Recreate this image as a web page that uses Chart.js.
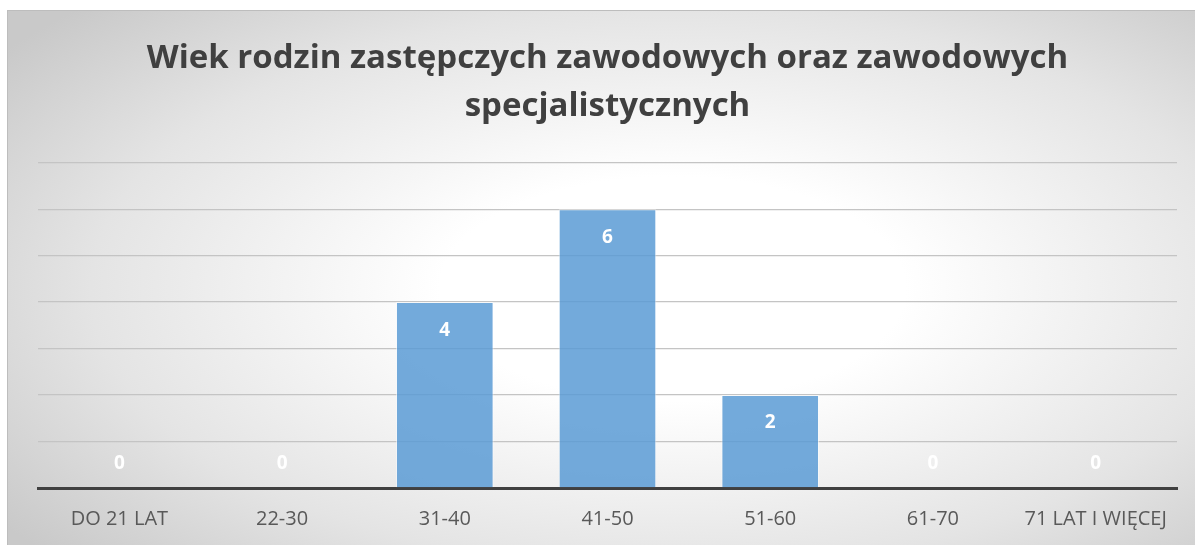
<!DOCTYPE html>
<html>
<head>
<meta charset="utf-8">
<script src="https://cdn.jsdelivr.net/npm/chart.js@4.4.0/dist/chart.umd.min.js"></script>
<style>
  html, body { margin: 0; padding: 0; background: #ffffff; }
  #karta {
    position: absolute;
    left: 7px; top: 10px;
    width: 1188px; height: 535px;
    border-top: 1px solid #bdbdbd;
    border-left: 1px solid #bdbdbd;
    box-sizing: border-box;
    background: radial-gradient(ellipse 70% 75% at 56% 52%, #ffffff 0%, #ffffff 28%, #e4e4e4 70%, #c9c9c9 100%);
  }
</style>
</head>
<body>
<div id="karta"><canvas id="wykres"></canvas></div>
<script>
const kategorie = ['DO 21 LAT', '22-30', '31-40', '41-50', '51-60', '61-70', '71 LAT I WIĘCEJ'];
const wartosci = [0, 0, 4, 6, 2, 0, 0];
const tytul = ['Wiek rodzin zastępczych zawodowych oraz zawodowych', 'specjalistycznych'];
const osY = { min: 0, max: 7, krok: 1 };

const etykietyWartosci = {
  id: 'etykietyWartosci',
  afterDatasetsDraw(chart) {
    const ctx = chart.ctx;
    const meta = chart.getDatasetMeta(0);
    const podstawa = chart.scales.y.getPixelForValue(0);
    ctx.save();
    ctx.font = 'bold 19px "Open Sans"';
    ctx.fillStyle = '#ffffff';
    ctx.textAlign = 'center';
    ctx.textBaseline = 'middle';
    meta.data.forEach((bar, i) => {
      const y = Math.min(bar.y + 28, podstawa - 24);
      ctx.fillText(String(wartosci[i]), bar.x, y);
    });
    ctx.restore();
  }
};

const ctx = document.getElementById('wykres').getContext('2d');

new Chart(ctx, {
  type: 'bar',
  data: {
    labels: kategorie,
    datasets: [{
      data: wartosci,
      backgroundColor: 'rgba(91, 155, 213, 0.85)',
      borderColor: 'rgba(255, 255, 255, 0.55)',
      borderWidth: 1,
      categoryPercentage: 1,
      barPercentage: 0.6
    }]
  },
  options: {
    responsive: true,
    maintainAspectRatio: false,
    animation: false,
    layout: {
      padding: { left: 30, right: 18, top: 0, bottom: 2 }
    },
    plugins: {
      legend: { display: false },
      tooltip: { enabled: false },
      title: {
        display: true,
        text: tytul,
        color: '#404040',
        font: { family: 'Open Sans', size: 33, weight: 'bold', lineHeight: 1.45 },
        padding: { top: 24, bottom: 32 }
      }
    },
    scales: {
      x: {
        grid: { display: false },
        border: { display: true, color: '#404040', width: 3 },
        ticks: {
          color: '#595959',
          font: { family: 'Open Sans', size: 20, lineHeight: 1.05 },
          padding: 13,
          maxRotation: 0,
          autoSkip: false
        }
      },
      y: {
        min: osY.min,
        max: osY.max,
        ticks: { display: false, stepSize: osY.krok },
        grid: { color: '#c4c4c4', lineWidth: 1.3, drawTicks: false },
        border: { display: false }
      }
    }
  },
  plugins: [etykietyWartosci]
});
</script>
</body>
</html>
